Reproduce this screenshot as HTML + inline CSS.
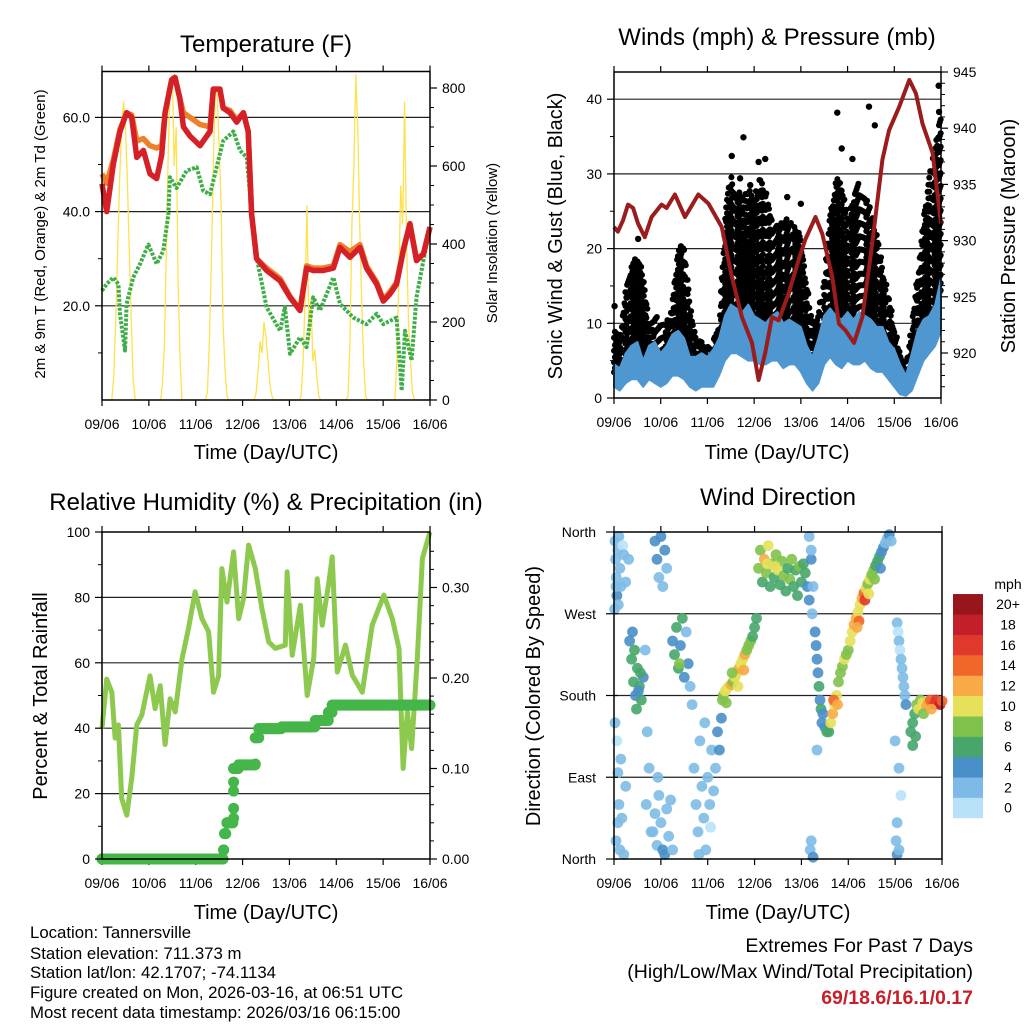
<!DOCTYPE html>
<html><head><meta charset="utf-8"><style>
html,body{margin:0;padding:0;background:#fff;}
svg{display:block;font-family:"Liberation Sans",Arial,sans-serif;}
</style></head><body>
<svg id="chart" width="1024" height="1024" viewBox="0 0 1024 1024" xmlns="http://www.w3.org/2000/svg">
<rect width="1024" height="1024" fill="#fff"/>
<g font-size="24" text-anchor="middle" fill="#000">
<text x="266" y="52">Temperature (F)</text>
<text x="777" y="45">Winds (mph) &amp; Pressure (mb)</text>
<text x="266" y="510">Relative Humidity (%) &amp; Precipitation (in)</text>
<text x="778" y="505">Wind Direction</text>
</g>
<g font-size="20" text-anchor="middle">
<text x="266" y="459">Time (Day/UTC)</text>
<text x="777" y="459">Time (Day/UTC)</text>
<text x="266" y="919">Time (Day/UTC)</text>
<text x="778" y="919">Time (Day/UTC)</text>
<text transform="translate(562,236) rotate(-90)">Sonic Wind &amp; Gust (Blue, Black)</text>
<text transform="translate(1015,236) rotate(-90)">Station Pressure (Maroon)</text>
<text transform="translate(47,696) rotate(-90)">Percent &amp; Total Rainfall</text>
<text transform="translate(540,696) rotate(-90)">Direction (Colored By Speed)</text>
</g>
<g font-size="15" text-anchor="middle">
<text transform="translate(45,234) rotate(-90)">2m &amp; 9m T (Red, Orange) &amp; 2m Td (Green)</text>
<text transform="translate(497,243) rotate(-90)">Solar Insolation (Yellow)</text>
</g>
<g font-size="16.8" fill="#000">
<text x="30" y="938">Location: Tannersville</text>
<text x="30" y="959">Station elevation: 711.373 m</text>
<text x="30" y="978">Station lat/lon: 42.1707; -74.1134</text>
<text x="30" y="998">Figure created on Mon, 2026-03-16, at 06:51 UTC</text>
<text x="30" y="1018">Most recent data timestamp: 2026/03/16 06:15:00</text>
</g>
<g font-size="19.5" text-anchor="end">
<text x="973" y="952">Extremes For Past 7 Days</text>
<text x="973" y="978">(High/Low/Max Wind/Total Precipitation)</text>
<text x="973" y="1004" fill="#c8202a" font-weight="bold">69/18.6/16.1/0.17</text>
</g>
<g id="layer"></g>
</svg>
<script>
// ---------- DATA ----------
const dayLabels = ["09/06","10/06","11/06","12/06","13/06","14/06","15/06","16/06"];
const tempHours = [0,2.4,5.8,9.2,12.6,15.2,17.8,21.2,24.6,28,30.6,32.3,35.7,37.4,39.9,41.7,45.1,50.2,55.3,57,60.4,62.1,65.5,69,72.4,74.9,76.6,79.2,84.3,91.2,96.3,101.4,104.8,108.2,113.3,118.5,121.9,127,132.1,135.5,140.7,144.1,147.5,150.9,154.3,157.7,161.1,164.6,168];
const temp2m = [45.9,40,50,57,61,60,51.5,53,48,47,52,61,68,68.5,64,58,56,54,57,66,66,62,61,59,61,57,39.5,30,27.5,25.3,21.8,19,28,27.5,27.5,28,32.4,30.3,32.4,28,24.6,21,22.5,24.6,31.7,37.4,29.6,31,36.7];
const temp9m = [48,46,51,57.5,61,60.5,55,55.5,54,53.5,54,61,68,68.5,64,61,60,58.5,58,66,66,62,61.5,59.5,61,57,39.5,30,28,25.8,22,19.2,28.5,28,28,28.5,33,31.5,33,28.5,25,21.3,23,25,32,37.4,30,31,36.7];
const dewHours = [0,2.4,5.8,8.4,9.2,11.8,12.6,16,19.5,23.7,28,31.4,34,34.8,38.2,43.4,48.5,51.9,55.3,58.7,62.1,67.3,70.7,74.1,76.6,79.2,84.3,91.2,93.7,96.3,101.4,104.8,108.2,111.6,118.5,121.9,128.7,135.5,140.7,144.1,150.9,153.5,155.2,158.6,161.1,164.6,168];
const dewPoint = [23.2,24.6,26,24.6,18.3,10.5,20.4,26,28.9,33,28.9,31.7,39.5,47.3,45,48.7,49.4,44.4,43.7,49.4,55,57,53,51.5,40,30.3,19.7,14.7,19.7,9.8,13.3,11.2,21.8,19,26,20.4,17.5,16.1,18.3,16.1,17.5,2,14.7,8.4,21.8,29.6,36.7];
const solarDay1 = [0,0,0,0,0,0,60,200,380,560,700,765,700,560,380,200,50,0,0,0,0,0,0,0];
const solarDay2 = [0,0,0,0,0,0,0,40,150,400,650,820,834,600,700,300,100,0,0,0,0,0,0,0];
const solarDay3 = [0,0,0,0,0,0,20,150,350,600,800,780,650,500,200,80,10,0,0,0,0,0,0,0];
const solarDay4 = [0,0,0,0,0,0,0,20,80,150,120,200,160,100,40,10,0,0,0,0,0,0,0,0];
const solarDay5 = [0,0,0,0,0,0,10,100,250,500,150,260,100,130,60,10,0,0,0,0,0,0,0,0];
const solarDay6 = [0,0,0,0,0,0,10,150,450,600,834,700,450,250,100,10,0,0,0,0,0,0,0,0];
const solarDay7 = [0,0,0,0,0,0,0,100,300,550,450,765,400,200,100,20,0,0,0,0,0,0,0,0];

const presHours = [0,2,4.6,7.2,9.8,12.4,15.8,19.3,24.4,27,31.3,36.5,43.3,48.5,55.4,60.5,65.7,70.9,74.3,77.7,81.2,84.6,89.7,94.9,98.3,103.5,107,112.1,115.6,119,123.3,127.6,132.7,137.9,141.3,146.5,151.7,155.1,158.5,163.7,168];
const pressure = [931.2,930.8,931.8,933.2,932.9,931.5,930.3,932.1,933.2,932.9,934.1,932.1,934.1,933.3,931.2,926.8,923.2,920.9,917.6,920.0,923.2,922.9,925.3,928.3,930.1,932.1,930.6,926.8,922.6,922.0,920.9,923.2,929.8,937.2,939.8,941.9,944.3,943.1,940.4,937.8,931.5];
const windHours3h = [0,3,6,9,12,15,18,21,24,27,30,33,36,39,42,45,48,51,54,57,60,63,66,69,72,75,78,81,84,87,90,93,96,99,102,105,108,111,114,117,120,123,126,129,132,135,138,141,144,147,150,153,156,159,162,165,168];
const windHi = [4.5,4,6,7,7.5,5,7,7.5,6,7,8.5,9,8,5.5,5.5,6,5.5,6.5,8,11,12.5,12,11.5,12.5,11,10.5,10,11,11.5,10,10.5,10,9.5,7,5.5,8,11,12,11,10.5,11.5,10.5,11.5,11,10.5,9.5,9.5,7.5,6.5,4.5,3,6,9,10.5,11,12.5,16];
const windLo = [1.5,1,2,2.5,2.5,1.5,2.5,2,1.5,2,3,3,2.5,1.5,1,1.5,1.5,1.5,3,5,6,6,5.5,5,5,4.5,4.5,5,5,4,4.5,4.5,3.5,2,1,2,4.5,5.5,4.5,4,5,4.5,4.5,5,4,3.5,3.5,2.5,1.5,0.5,0.3,1,3,5,6,7,9];
const gustHi = [9,8.5,15,18,19,17,10,11,11,10,13,20,21,13,8,8,7,8,10,25,30,28,27,28,27,30,28,24,23,24,24,23,22,16,10,12,16,25,30,29,24,27,29,28,25,22,18,14,10,6,5,10,17,24,30,34,38];
const gustLo = [3,3,4,5,5,4,4,4,3.5,3.5,4,5,5,3,3,2.5,3,3,4,7,9,9,10,9,10,8,9,9,8,8,9,7,6,4,3,4,6,8,9,9,8,9,9,9,8,6,5,4,3,1.5,1,2,5,8,10,12,14];
const gustOutHours = [12.4,34.4,60.5,66.5,74.3,77.7,114.7,131,134,117,122.5,166.8,167,89,96,0.3,64.8,70];
const gustOutSpeed = [21.3,20.3,32.4,34.9,31.6,32,38.2,39,36.5,33.4,32,41.8,38.3,26.9,26,12.3,29.4,28.5];

const rhHours = [0,2.4,5,6.7,8.4,10.1,12.7,15.2,17.8,20.4,24.6,27.2,29.8,32.3,34.9,37.5,40.9,44.3,47.7,51.2,54.6,57.1,59.7,61.4,64,67.4,70,72.5,75.1,78.5,81.9,85.4,88.8,93.9,94.8,97.4,101.6,105.1,108.5,110.2,112.8,116.2,117.9,120.5,124.7,128.2,133.3,138.4,144.4,148.7,152.1,154.2,156.4,158.6,161.5,164.1,167.5,168];
const rhValues = [40,55,51,37,41,18.5,13.4,24.6,41,44,56,46,53,35,49,45,61,70.5,81.7,73.5,69.5,51,56,88.8,78.6,93.9,73.5,79.6,96,88.8,76.6,66.4,64.4,65.4,87.8,62.3,77.6,50,61.5,85.7,71.5,84.7,92.4,57.2,65.4,56.2,51,71.5,80.7,73.5,64.4,27.7,45,33.8,61.3,91.9,99,100];
const precipHours = [0,61.4,62.3,62.8,64,67.4,67.4,67.4,67.4,67.4,70,78.5,78.5,80.3,92.2,109.3,116,117.9,168];
const precipTotal = [0,0,0.01,0.028,0.04,0.045,0.056,0.075,0.085,0.10,0.104,0.105,0.134,0.144,0.146,0.153,0.162,0.17,0.17];

const wdHour = [
0.5,0.8,1.2,1.5,2,2.5,3,3.5,4.5,5,6,0.3,1,2.2,7.5,
1,2,2.5,3,1.5,0.5,3.5,5,4,6,2,
8,9,10,11,12,13,14,15,16,9.5,11.5,13.5,10.5,12.5,17,18,16.5,19,
20,21,22,23,24,25,26,27,28,29,30,22.5,
21,22,23,24,25,26,27,
30,31,32,33,34,35,36,37,38,39,40,33.5,
41,42,43,44,45,46,47,48,49,50,51,52,53,54,55,46.5,43.5,49.5,
55.5,56,57,58,59,60,61,62,63,64,65,66,67,68,69,70,71,72,73,57.5,60.5,63.5,66.5,
74,75,76,77,78,79,80,81,82,83,84,85,86,87,88,89,90,91,92,93,94,95,96,97,98,99,100,101,78.5,82.5,
100,101,102,101.5,100.5,101,102,
103,103.5,104,104.5,105,105.5,106,106.5,107,108,109,104,
110,111,112,113,114,115,116,117,118,119,112.5,114.5,
120,121,122,123,124,125,126,127,128,129,130,131,132,133,134,135,136,137,138,139,140,141,142,125.5,128.5,124.5,130.5,133.5,136.5,
145,145.5,146,146.5,147,147.5,148,148.5,149,149.5,144,146,147,145,144.5,145,146,
152,153,154,155,156,157,158,159,160,161,162,163,164,165,166,167,168,153,154.5,158.5,162.5];
const wdDir = [
350,330,310,290,340,355,320,300,345,335,305,275,300,280,330,
20,40,60,10,130,150,110,5,45,80,95,
240,220,195,180,210,190,175,200,230,250,165,205,230,185,140,100,60,30,
30,50,15,70,40,10,5,55,25,65,10,90,
350,330,310,355,300,340,320,
240,225,255,210,235,265,200,250,215,190,170,215,
100,60,30,130,80,45,10,90,60,120,75,100,140,120,155,150,5,35,
175,180,185,188,190,192,195,200,205,210,215,220,225,230,235,240,245,255,265,172,205,190,208,
320,340,305,330,315,345,300,325,310,335,318,302,328,312,295,320,308,330,300,318,290,322,305,325,315,300,285,330,325,322,
355,340,300,270,10,20,2,
250,235,220,205,190,175,165,150,160,145,140,120,
140,150,160,170,180,195,205,212,220,225,175,170,
230,240,250,258,265,272,280,287,293,298,303,308,313,318,323,328,333,338,343,348,353,357,350,262,285,255,292,308,320,
260,250,240,230,220,210,200,190,180,170,130,100,70,40,20,5,10,
140,150,160,170,165,175,172,170,168,172,175,172,170,175,172,170,174,125,135,160,165];
const wdSpeed = [
2,3,2,4,3,2,3,2,1,2,2,3,2,3,3,
2,3,2,3,1,2,2,3,2,2,2,
5,6,6,5,7,6,6,4,3,5,6,7,6,5,3,2,2,3,
3,3,2,3,3,4,4,3,3,3,2,2,
4,4,3,4,3,4,3,
5,6,7,6,5,6,4,3,4,2,3,8,
3,2,2,3,2,2,3,2,2,3,2,3,4,4,4,2,3,1,
8,9,10,11,10,12,9,10,11,12,10,11,12,9,8,8,7,6,6,8,8,10,13,
8,9,7,12,8,10,7,9,6,8,10,7,9,8,6,7,8,8,6,7,6,8,7,6,6,5,5,4,11,10,
3,2,3,3,3,2,4,
4,4,5,4,6,4,6,5,4,5,6,3,
7,10,12,11,10,9,9,8,10,8,15,12,
9,10,11,12,13,10,11,12,14,10,9,10,8,9,7,6,6,5,4,3,3,4,3,15,16,12,11,9,5,
2,1,2,1,2,2,3,3,3,4,2,2,1,2,3,4,2,
6,7,7,8,10,9,10,11,12,13,14,15,16,17,16,18,15,6,7,9,13];
const speedBinLabels = ["0","2","4","6","8","10","12","14","16","18","20+"];
const speedBinColors = ["#b8e2f7","#7dbbe6","#4a8fc8","#47a66c","#7fc24b","#e6e05a","#f7aa45","#f0662b","#e0392b","#c21f2a","#97161c"];

// ---------- HELPERS ----------
const NS = "http://www.w3.org/2000/svg";
const layer = document.getElementById("layer");
function mk(tag, attrs, parent) {
  const e = document.createElementNS(NS, tag);
  for (const k in attrs) e.setAttribute(k, attrs[k]);
  (parent || layer).appendChild(e);
  return e;
}
function interp(xs, ys, x) {
  if (x <= xs[0]) return ys[0];
  for (let i = 1; i < xs.length; i++) {
    if (x <= xs[i]) { const t = (x - xs[i-1]) / ((xs[i] - xs[i-1]) || 1); return ys[i-1] + t * (ys[i] - ys[i-1]); }
  }
  return ys[ys.length - 1];
}
const P1 = {x0:102, x1:430, y0:71.5, y1:400};
const P2 = {x0:614, x1:941, y0:72, y1:398};
const P3 = {x0:102, x1:430, y0:532, y1:859};
const P4 = {x0:614, x1:942, y0:532, y1:859};
function xOf(P, h) { return P.x0 + h / 168 * (P.x1 - P.x0); }
const yTemp = v => 400 - v * 4.71;
const ySolar = v => 400 - v * 0.39;
const ySpeed = v => 398 - v * 7.47;
const yPres = p => 72 + (945 - p) * 11.24;
const yRH = v => 859 - v * 3.27;
const yPrecip = v => 859 - v * 905;
const yDir = d => 859 - d * 327 / 360;

function pathFrom(P, hs, vs, yf) {
  let d = "";
  for (let i = 0; i < hs.length; i++) d += (i ? "L" : "M") + xOf(P, hs[i]).toFixed(1) + " " + yf(vs[i]).toFixed(1);
  return d;
}

function frame(P, name, grid, yf) {
  const g = mk("g", {});
  
  
  grid.forEach(v => {
    const l = mk("line", {x1:P.x0, x2:P.x1, y1:yf(v), y2:yf(v), stroke:"#222", "stroke-width":1.2}, g);
    
    
  });
  for (let i = 0; i < 8; i++) {
    const x = xOf(P, i * 24);
    const t = mk("line", {x1:x, x2:x, y1:P.y1, y2:P.y1 + 6, stroke:"#000", "stroke-width":1.2}, g);
    
    
    const tt = mk("line", {x1:x, x2:x, y1:P.y0, y2:P.y0 - 6, stroke:"#000", "stroke-width":1.2}, g);
    
    
    const lb = mk("text", {x:x, y:P.y1 + 29, "font-size":14, "text-anchor":"middle"}, g);
    lb.textContent = dayLabels[i];
    
    
  }
  return g;
}
function frameBox(P, name) {
  const r = mk("rect", {x:P.x0, y:P.y0, width:P.x1 - P.x0, height:P.y1 - P.y0, fill:"none", stroke:"#000", "stroke-width":1.5});
  
  
}
function yTicks(P, name, vals, labels, yf, side, minor) {
  const xa = side === "left" ? P.x0 : P.x1;
  const dir = side === "left" ? -1 : 1;
  vals.forEach((v, i) => {
    const y = yf(v);
    const t = mk("line", {x1:xa, x2:xa + dir * 7, y1:y, y2:y, stroke:"#000", "stroke-width":1.2});
    
    
    const lb = mk("text", {x:xa + dir * 12, y:y + 5, "font-size":14, "text-anchor": side === "left" ? "end" : "start"});
    lb.textContent = labels[i];
    
    
  });
  (minor || []).forEach(v => {
    const y = yf(v);
    const t = mk("line", {x1:xa, x2:xa + dir * 4, y1:y, y2:y, stroke:"#000", "stroke-width":1});
    
    
  });
}

// ---------- PANEL 1: TEMPERATURE ----------
frame(P1, "temp", [20,40,60], yTemp);
const solarAll = [].concat(solarDay1, solarDay2, solarDay3, solarDay4, solarDay5, solarDay6, solarDay7, [0]);
const solarHrs = solarAll.map((_, i) => i);
const solarLine = mk("path", {d:pathFrom(P1, solarHrs, solarAll, ySolar), fill:"none", stroke:"#fde14d", "stroke-width":1.3});


const dewLine = mk("path", {d:pathFrom(P1, dewHours, dewPoint, yTemp), fill:"none", stroke:"#3fae49", "stroke-width":4, "stroke-dasharray":"3 1.5", "stroke-linejoin":"round"});


const t9Line = mk("path", {d:pathFrom(P1, tempHours, temp9m, yTemp), fill:"none", stroke:"#f07f2a", "stroke-width":5.5, "stroke-linejoin":"round"});


const t2Line = mk("path", {d:pathFrom(P1, tempHours, temp2m, yTemp), fill:"none", stroke:"#d42027", "stroke-width":5.5, "stroke-linejoin":"round"});


frameBox(P1, "temp");
yTicks(P1, "temp", [20,40,60], ["20.0","40.0","60.0"], yTemp, "left", [10,30,50]);
yTicks(P1, "solar", [0,200,400,600,800], ["0","200","400","600","800"], ySolar, "right", [50,100,150,250,300,350,450,500,550,650,700,750]);

// ---------- PANEL 2: WINDS ----------
frame(P2, "winds", [10,20,30,40], ySpeed);
const gustG = mk("g", {fill:"#000"});


let row = 0;
for (let h = 0; h <= 168; h += 0.45) {
  const lo = interp(windHours3h, gustLo, h), hi = interp(windHours3h, gustHi, h);
  const n = Math.max(1, Math.round((hi - lo) / 1.5));
  for (let k = 0; k < n; k++) {
    const f = ((k + 0.5) / n + row * 0.618) % 1;
    const v = lo + (hi - lo) * Math.pow(f, 1.25);
    const c = mk("circle", {cx:xOf(P2, h).toFixed(1), cy:ySpeed(v).toFixed(1), r:3}, gustG);
    
    
  }
  row++;
}
gustOutHours.forEach((h, i) => {
  const c = mk("circle", {cx:xOf(P2, h), cy:ySpeed(gustOutSpeed[i]), r:3.2}, gustG);
  
  
});
let bandD = pathFrom(P2, windHours3h, windHi, ySpeed);
for (let i = windHours3h.length - 1; i >= 0; i--) bandD += "L" + xOf(P2, windHours3h[i]).toFixed(1) + " " + ySpeed(windLo[i]).toFixed(1);
const windBand = mk("path", {d:bandD + "Z", fill:"#4f97d1", stroke:"#4f97d1", "stroke-width":2, "stroke-linejoin":"round"});


const presLine = mk("path", {d:pathFrom(P2, presHours, pressure, yPres), fill:"none", stroke:"#9b1c1c", "stroke-width":4, "stroke-linejoin":"round"});


frameBox(P2, "winds");
yTicks(P2, "wind", [0,10,20,30,40], ["0","10","20","30","40"], ySpeed, "left", [5,15,25,35]);
yTicks(P2, "pressure", [920,925,930,935,940,945], ["920","925","930","935","940","945"], yPres, "right", [917,918,919,921,922,923,924,926,927,928,929,931,932,933,934,936,937,938,939,941,942,943,944]);

// ---------- PANEL 3: HUMIDITY ----------
frame(P3, "humidity", [20,40,60,80], yRH);
const rhLine = mk("path", {d:pathFrom(P3, rhHours, rhValues, yRH), fill:"none", stroke:"#8dc94f", "stroke-width":5, "stroke-linejoin":"round"});


const prG = mk("g", {fill:"#45b649"});


for (let i = 0; i < precipHours.length; i++) {
  const c = mk("circle", {cx:xOf(P3, precipHours[i]), cy:yPrecip(precipTotal[i]), r:5.5}, prG);
  
  
  if (i > 0) {
    const h0 = precipHours[i-1], h1 = precipHours[i];
    for (let h = h0; h < h1; h += 0.6) {
      const c2 = mk("circle", {cx:xOf(P3, h), cy:yPrecip(precipTotal[i-1]), r:5.5}, prG);
      
      
    }
  }
}
frameBox(P3, "humidity");
yTicks(P3, "humidity", [0,20,40,60,80,100], ["0","20","40","60","80","100"], yRH, "left", [10,30,50,70,90]);
yTicks(P3, "precip", [0,0.1,0.2,0.3], ["0.00","0.10","0.20","0.30"], yPrecip, "right", [0.02,0.04,0.06,0.08,0.12,0.14,0.16,0.18,0.22,0.24,0.26,0.28,0.32,0.34]);

// ---------- PANEL 4: WIND DIRECTION ----------
frame(P4, "direction", [90,180,270], yDir);
const wdG = mk("g", {});


wdHour.forEach((h, i) => {
  const bin = Math.min(10, Math.floor(wdSpeed[i] / 2));
  const c = mk("circle", {cx:xOf(P4, h).toFixed(1), cy:yDir(wdDir[i]).toFixed(1), r:5.4, fill:speedBinColors[bin], "fill-opacity":0.9}, wdG);
  
  
});
frameBox(P4, "direction");
["North","East","South","West","North"].forEach((lab, i) => {
  const y = yDir(i * 90);
  const t = mk("line", {x1:P4.x0 - 8, x2:P4.x0 + 4, y1:y, y2:y, stroke:"#000", "stroke-width":1.2});
  
  
  const lb = mk("text", {x:596, y:y + 5, "font-size":14, "text-anchor":"end"});
  lb.textContent = lab;
  
  
});
const cbG = mk("g", {});


const cbTitle = mk("text", {x:1008, y:589, "font-size":14, "text-anchor":"middle"}, cbG);
cbTitle.textContent = "mph";


speedBinLabels.forEach((lab, i) => {
  const y = 818 - (i + 1) * 20.36;
  const r = mk("rect", {x:953, y:y, width:30, height:20.6, fill:speedBinColors[i]}, cbG);
  
  
  const t = mk("text", {x:1008, y:y + 15, "font-size":14, "text-anchor":"middle"}, cbG);
  t.textContent = lab;
  
  
});
</script>
</body></html>
